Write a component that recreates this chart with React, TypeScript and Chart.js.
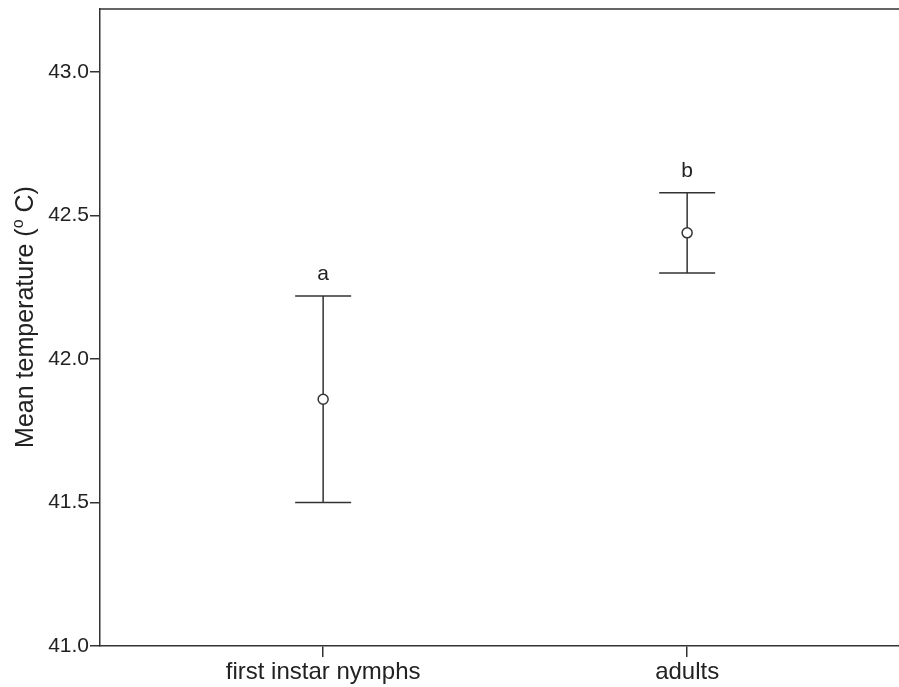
import React, { useEffect, useRef } from "react";
import { Chart, registerables } from "chart.js";

Chart.register(...registerables);

const categories = ["first instar nymphs", "adults"];
const means = [41.86, 42.44];
const upper = [42.22, 42.58];
const lower = [41.5, 42.3];
const letters = ["a", "b"];
const yMin = 41.0;
const yMax = 43.22;
const yStep = 0.5;

const FONT = "'Liberation Sans', Arial, sans-serif";
const INK = "#333333";

export default function App() {
  const ref = useRef<HTMLCanvasElement | null>(null);

  useEffect(() => {
    document.body.style.margin = "0";
    const canvas = ref.current;
    if (!canvas) return;

    const frame = {
      id: "frame",
      afterDraw(chart: any) {
        const { ctx, chartArea } = chart;
        ctx.save();
        ctx.strokeStyle = INK;
        ctx.lineWidth = 1.5;
        ctx.beginPath();
        ctx.moveTo(chartArea.left, chartArea.top);
        ctx.lineTo(chartArea.right, chartArea.top);
        ctx.stroke();
        // y-axis title with superscript
        const cy = 317;
        ctx.translate(26, cy);
        ctx.rotate(-Math.PI / 2);
        ctx.fillStyle = "#222";
        ctx.textBaseline = "middle";
        const big = `25px ${FONT}`;
        const small = `16px ${FONT}`;
        const p1 = "Mean temperature (";
        const p2 = "o";
        const p3 = " C)";
        ctx.font = big;
        const w1 = ctx.measureText(p1).width;
        const w3 = ctx.measureText(p3).width;
        ctx.font = small;
        const w2 = ctx.measureText(p2).width;
        const total = w1 + w2 + w3;
        let x = -total / 2;
        ctx.font = big;
        ctx.textAlign = "left";
        ctx.fillText(p1, x, 0);
        x += w1;
        ctx.font = small;
        ctx.fillText(p2, x, -7);
        x += w2;
        ctx.font = big;
        ctx.fillText(p3, x, 0);
        ctx.restore();
      },
    };

    const errorBars = {
      id: "errorBars",
      beforeDatasetsDraw(chart: any) {
        const { ctx } = chart;
        const xs = chart.scales.x;
        const ys = chart.scales.y;
        ctx.save();
        ctx.strokeStyle = INK;
        ctx.lineWidth = 1.5;
        categories.forEach((_, i) => {
          const px = xs.getPixelForValue(i + 1);
          const pu = ys.getPixelForValue(upper[i]);
          const pl = ys.getPixelForValue(lower[i]);
          ctx.beginPath();
          ctx.moveTo(px, pu);
          ctx.lineTo(px, pl);
          ctx.moveTo(px - 28, pu);
          ctx.lineTo(px + 28, pu);
          ctx.moveTo(px - 28, pl);
          ctx.lineTo(px + 28, pl);
          ctx.stroke();
          ctx.fillStyle = "#222";
          ctx.font = `21px ${FONT}`;
          ctx.textAlign = "center";
          ctx.textBaseline = "alphabetic";
          ctx.fillText(letters[i], px, pu - 16);
        });
        ctx.restore();
      },
    };

    const chart = new Chart(canvas, {
      type: "scatter",
      data: {
        datasets: [
          {
            data: categories.map((_, i) => ({ x: i + 1, y: means[i] })),
            pointStyle: "circle",
            pointRadius: 5,
            pointHoverRadius: 5,
            borderColor: INK,
            backgroundColor: "#ffffff",
            borderWidth: 1.5,
          },
        ],
      },
      options: {
        responsive: false,
        animation: false,
        layout: { autoPadding: false, padding: { top: 9, right: 0, left: 0, bottom: 0 } },
        plugins: {
          legend: { display: false },
          tooltip: { enabled: false },
        },
        scales: {
          x: {
            type: "linear",
            min: 0.387,
            max: 2.582,
            afterBuildTicks: (s: any) => {
              s.ticks = categories.map((_, i) => ({ value: i + 1 }));
            },
            afterFit: (s: any) => {
              s.height = 41;
              s.paddingLeft = 0;
              s.paddingRight = 0;
            },
            ticks: {
              autoSkip: false,
              maxRotation: 0,
              padding: 1,
              color: "#222",
              font: { family: FONT, size: 24 },
              callback: (_v: any, idx: number) => categories[idx],
            },
            grid: { drawOnChartArea: false, tickLength: 11, color: INK, lineWidth: 1.5 },
            border: { color: INK, width: 1.5 },
          },
          y: {
            min: yMin,
            max: yMax,
            ticks: {
              stepSize: yStep,
              includeBounds: false,
              padding: 1,
              color: "#222",
              font: { family: FONT, size: 21 },
              callback: (v: any) => Number(v).toFixed(1),
            },
            afterFit: (s: any) => {
              s.width = 100;
              s.paddingTop = 0;
              s.paddingBottom = 0;
            },
            grid: { drawOnChartArea: false, tickLength: 10, color: INK, lineWidth: 1.5 },
            border: { color: INK, width: 1.5 },
          },
        },
      },
      plugins: [frame, errorBars],
    });

    return () => chart.destroy();
  }, []);

  return (
    <div style={{ width: 899, height: 687 }}>
      <canvas ref={ref} width={899} height={687} />
    </div>
  );
}
